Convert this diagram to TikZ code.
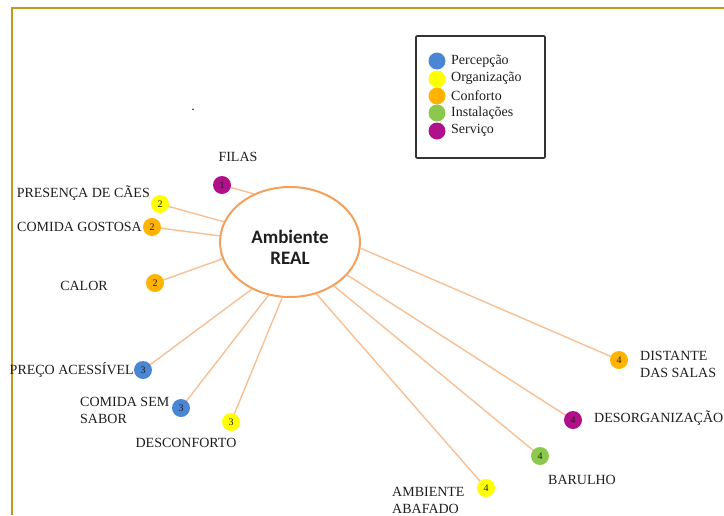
\documentclass[tikz,border=0pt]{standalone}
\usepackage{fontspec}
\setmainfont{Liberation Serif}
\newfontfamily\hubfont{Carlito}
\usetikzlibrary{shapes.geometric,backgrounds}

\definecolor{framegold}{HTML}{C8961E}
\definecolor{hubline}{HTML}{F4A05A}
\definecolor{spoke}{HTML}{F8BF94}
\definecolor{cPerc}{HTML}{4A86D4}
\definecolor{cOrg}{HTML}{FFFF00}
\definecolor{cConf}{HTML}{FFB300}
\definecolor{cInst}{HTML}{8CC84B}
\definecolor{cServ}{HTML}{B0108A}
\definecolor{ink}{HTML}{1E1E1E}

\tikzset{
  badge/.style={circle, fill=#1, minimum size=18pt, inner sep=0pt,
    font=\fontsize{10}{10}\selectfont, text=ink},
  keydot/.style={circle, fill=#1, minimum size=17pt, inner sep=0pt},
  lbl/.style={font=\fontsize{14}{17}\selectfont, text=ink, inner sep=0pt},
  keytxt/.style={font=\fontsize{14}{14}\selectfont, text=ink, inner sep=0pt, anchor=west},
  spokeline/.style={draw=spoke, line width=1.4pt},
}

\begin{document}
\begin{tikzpicture}[x=1pt, y=-1pt]
\useasboundingbox (0,0) rectangle (724,515);

% outer frame (only top and left edges fall inside the page)
\draw[framegold, line width=2pt] (12,515) -- (12,8) -- (724,8);

% legend
\draw[black!80, line width=1.6pt, rounded corners=1pt] (416,36) rectangle (545,158);
\node[keydot=cPerc] (k1) at (437,61) {};
\node[keydot=cOrg]  (k2) at (437,79) {};
\node[keydot=cConf] (k3) at (437,96) {};
\node[keydot=cInst] (k4) at (437,113) {};
\node[keydot=cServ] (k5) at (437,131) {};
\node[keytxt] (t1) at (451,61) {Percepção};
\node[keytxt] (t2) at (451,78) {Organização};
\node[keytxt] (t3) at (451,96) {Conforto};
\node[keytxt] (t4) at (451,113) {Instalações};
\node[keytxt] (t5) at (451,130) {Serviço};

\node[lbl] (dot) at (193,110) {.};

% central ellipse and its title
\node[ellipse, draw=hubline, fill=white, line width=2pt, minimum width=140pt, minimum height=110pt]
  (hub) at (290,242) {};
\node[align=center, font=\hubfont\bfseries\fontsize{19}{21}\selectfont, text=ink]
  (hubtext) at (290,247) {Ambiente\\REAL};

% badges
\node[badge=cServ] (b1)  at (222,185) {1};
\node[badge=cOrg]  (b2)  at (160,204) {2};
\node[badge=cConf] (b3)  at (152,227) {2};
\node[badge=cConf] (b4)  at (155,283) {2};
\node[badge=cPerc] (b5)  at (143,370) {3};
\node[badge=cPerc] (b6)  at (181,408) {3};
\node[badge=cOrg]  (b7)  at (231,422) {3};
\node[badge=cOrg]  (b8)  at (486,488) {4};
\node[badge=cInst] (b9)  at (540,456) {4};
\node[badge=cServ] (b10) at (573,420) {4};
\node[badge=cConf] (b11) at (619,360) {4};

% spokes, kept behind the badges
\begin{scope}[on background layer]
\foreach \b/\a in {b1/127, b2/163, b3/175, b4/194, b5/231, b6/248, b7/262, b8/297, b9/315, b10/330, b11/355}
  \draw[spokeline] (\b.center) -- (hub.\a);
\end{scope}

% labels
\node[lbl] (l1) at (238,157) {FILAS};
\node[lbl, anchor=east] (l2) at (150,193) {PRESENÇA DE CÃES};
\node[lbl, anchor=east] (l3) at (142,227) {COMIDA GOSTOSA};
\node[lbl] (l4) at (84,286) {CALOR};
\node[lbl, anchor=east] (l5) at (134,370) {PREÇO ACESSÍVEL};
\node[lbl, align=left, anchor=west] (l6) at (80,410) {COMIDA SEM\\SABOR};
\node[lbl] (l7) at (186,443) {DESCONFORTO};
\node[lbl, align=left, anchor=west] (l8) at (392,500) {AMBIENTE\\ABAFADO};
\node[lbl] (l9) at (582,480) {BARULHO};
\node[lbl, anchor=west] (l10) at (594,418) {DESORGANIZAÇÃO};
\node[lbl, align=left, anchor=west] (l11) at (640,364) {DISTANTE\\DAS SALAS};
\end{tikzpicture}
\end{document}
